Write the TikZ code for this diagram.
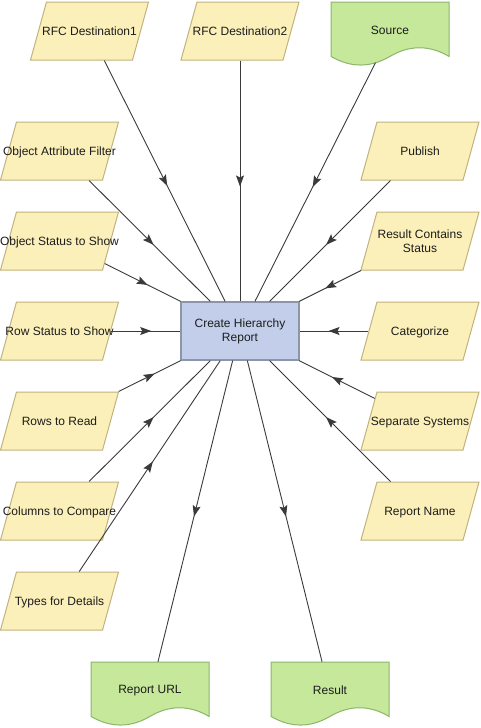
\documentclass[tikz,border=0pt]{standalone}
\usepackage{fontspec}
\setmainfont{Liberation Sans}
\usetikzlibrary{shapes.geometric,arrows.meta,decorations.markings}
\definecolor{yelfill}{HTML}{FBF0BA}
\definecolor{yelline}{HTML}{C2B27E}
\definecolor{grnfill}{HTML}{C5E89B}
\definecolor{grnline}{HTML}{8DB46C}
\definecolor{bluefill}{HTML}{C3CFEA}
\definecolor{blueline}{HTML}{8C96A8}
\definecolor{edgec}{HTML}{3A3A3A}
\definecolor{txt}{HTML}{1C1C1C}
\newcommand\nowid[1]{\makebox[0pt]{\raisebox{-4.3pt}[0pt][0pt]{#1}}\rule[-29pt]{0pt}{58pt}}
\newcommand\twoline[2]{\makebox[0pt]{\raisebox{-4.6pt}[0pt][0pt]{\begin{tabular}{@{}c@{}}#1\\#2\end{tabular}}}\rule[-29pt]{0pt}{58pt}}
\begin{document}
\begin{tikzpicture}[x=1pt,y=-1pt,
 every node/.style={font=\fontsize{12pt}{14pt}\selectfont, text=txt},
 inbox/.style={trapezium, trapezium left angle=74.6, trapezium right angle=105.4,
   trapezium stretches body, minimum width=118pt, minimum height=58pt,
   inner sep=0pt, fill=yelfill, draw=yelline, line width=1pt},
 mainbox/.style={rectangle, minimum width=118pt, minimum height=58pt, inner sep=0pt,
   fill=bluefill, draw=blueline, line width=1.2pt, align=center},
 docnode/.style={rectangle, minimum width=118pt, minimum height=64pt, inner sep=0pt},
 doclabel/.style={label={[yshift=3.5pt]center:#1}},
 docpic/.pic={\draw[fill=grnfill, draw=grnline, line width=1pt]
   (0,0) -- (118,0) -- (118,54.4)
   .. controls (98.33,42.88) and (78.67,42.88) .. (59,54.4)
   .. controls (39.33,65.92) and (19.67,65.92) .. (0,54.4) -- cycle;},
 flow/.style={draw, color=edgec, line width=0.9pt, postaction={decorate},
   decoration={markings, mark=at position 0.5 with
     {\begin{scope}[xshift=5.5pt]\arrow[edgec]{Stealth[length=11pt,width=8pt,inset=2pt]}\end{scope}}}}
]
\useasboundingbox (0,0) rectangle (481,728);

% documents (outlines first)
\pic at (331,2) {docpic};
\pic at (91,662) {docpic};
\pic at (271,662) {docpic};
\node[docnode, minimum height=57pt, doclabel=Source] (src) at (390,34) {};
\node[docnode, doclabel=Report URL] (url) at (150,694) {};
\node[docnode, doclabel=Result] (res) at (330,694) {};

% main
\node[mainbox] (main) at (240,331) {Create Hierarchy\\Report};

% top inputs
\node[inbox] (rfc1) at (89.5,31) {\nowid{RFC Destination1}};
\node[inbox] (rfc2) at (240,31) {\nowid{RFC Destination2}};

% left inputs
\node[inbox] (oaf) at (59.5,151) {\nowid{Object Attribute Filter}};
\node[inbox] (oss) at (59.5,241) {\nowid{Object Status to Show}};
\node[inbox] (rss) at (59.5,331) {\nowid{Row Status to Show}};
\node[inbox] (rtr) at (59.5,421) {\nowid{Rows to Read}};
\node[inbox] (ctc) at (59.5,511) {\nowid{Columns to Compare}};
\node[inbox] (tfd) at (59.5,601) {\nowid{Types for Details}};

% right inputs
\node[inbox] (pub) at (420,151) {\nowid{Publish}};
\node[inbox] (rcs) at (420,241) {\twoline{Result Contains}{Status}};
\node[inbox] (cat) at (420,331) {\nowid{Categorize}};
\node[inbox] (sep) at (420,421) {\nowid{Separate Systems}};
\node[inbox] (rn) at (420,511) {\nowid{Report Name}};

% connectors
\draw[flow] (rfc1) -- (main);
\draw[flow] (rfc2) -- (main);
\draw[flow] (src) -- (main);
\draw[flow] (oaf) -- (main);
\draw[flow] (oss) -- (main);
\draw[flow] (rss) -- (main);
\draw[flow] (rtr) -- (main);
\draw[flow] (ctc) -- (main);
\draw[flow] (tfd) -- (main);
\draw[flow] (pub) -- (main);
\draw[flow] (rcs) -- (main);
\draw[flow] (cat) -- (main);
\draw[flow] (sep) -- (main);
\draw[flow] (rn) -- (main);
\draw[flow] (main) -- (url);
\draw[flow] (main) -- (res);
\end{tikzpicture}
\end{document}
